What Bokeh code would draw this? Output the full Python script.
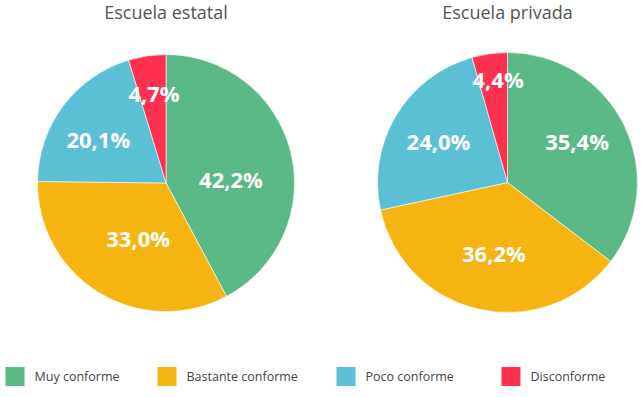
import math
from bokeh.plotting import figure
from bokeh.models import Range1d, ColumnDataSource
from bokeh.core.properties import value
from bokeh.embed import file_html
from bokeh.resources import INLINE

# ---- data ----
categories = ["Muy conforme", "Bastante conforme", "Poco conforme", "Disconforme"]
titles = ["Escuela estatal", "Escuela privada"]
estatal = [42.2, 33.0, 20.1, 4.7]
privada = [35.4, 36.2, 24.0, 4.4]
colors = ["#5bb887", "#f5b412", "#5bbfd5", "#ff3150"]

# ---- layout (picture pixel coordinates; y measured from top) ----
W, H = 641, 397
centers = [(165.5, 182.5), (507.0, 182.0)]
radii = [128.5, 130.0]
# label placement: fraction of radius and angular nudge (degrees, clockwise)
label_rfrac = [[0.507, 0.479, 0.627, 0.707], [0.625, 0.556, 0.621, 0.796]]
label_nudge = [[10.5, -4.4, -4.0, 0.9], [-4.8, -1.8, 0.3, 2.7]]
label_size = 22
title_y = 11
legend_y = 376
legend_box_x = [5, 157, 336, 501]
legend_box = 19
legend_gap = 10

def Y(py):
    return H - py

p = figure(width=W, height=H, output_backend="svg", toolbar_location=None,
           x_range=Range1d(0, W), y_range=Range1d(0, H),
           x_axis_location=None, y_axis_location=None, min_border=0)
p.grid.visible = False
p.outline_line_color = None
p.background_fill_color = "white"
p.border_fill_color = "white"

for idx, vals in enumerate([estatal, privada]):
    cx, cy = centers[idx]
    r = radii[idx]
    total = sum(vals)
    starts, ends, lx, ly, labels = [], [], [], [], []
    cum = 0.0
    for j, v in enumerate(vals):
        a0 = math.pi / 2 - 2 * math.pi * cum / total
        a1 = math.pi / 2 - 2 * math.pi * (cum + v) / total
        starts.append(a0)
        ends.append(a1)
        mid = (a0 + a1) / 2 - math.radians(label_nudge[idx][j])
        rr = r * label_rfrac[idx][j]
        lx.append(cx + rr * math.cos(mid))
        ly.append(Y(cy) + rr * math.sin(mid))
        labels.append(f"{v:.1f}%".replace(".", ","))
        cum += v
    src = ColumnDataSource(dict(start=starts, end=ends, color=colors,
                                x=[cx] * 4, y=[Y(cy)] * 4))
    p.wedge(x="x", y="y", radius=r, radius_units="screen", start_angle="start",
            end_angle="end", direction="clock", fill_color="color",
            line_color="white", line_width=0.6, source=src)
    p.text(x=lx, y=ly, text=labels, text_color="white",
           text_font=value("Open Sans"), text_font_style="bold",
           text_font_size=f"{label_size}px", text_align="center",
           text_baseline="middle")
    p.text(x=[cx], y=[Y(title_y)], text=[titles[idx]], text_color="#555555",
           text_font=value("Open Sans"), text_font_size="18px",
           text_align="center", text_baseline="middle")

# legend
bx = [x + legend_box / 2 for x in legend_box_x]
p.rect(x=bx, y=[Y(legend_y)] * 4, width=legend_box, height=legend_box,
       width_units="screen", height_units="screen", fill_color=colors,
       line_color=None)
p.text(x=[x + legend_box + legend_gap for x in legend_box_x], y=[Y(legend_y)] * 4,
       text=categories, text_color="#444444", text_font=value("Open Sans"),
       text_font_size="12.5px", text_align="left", text_baseline="middle")

open("out.html", "w").write(file_html(p, INLINE))
